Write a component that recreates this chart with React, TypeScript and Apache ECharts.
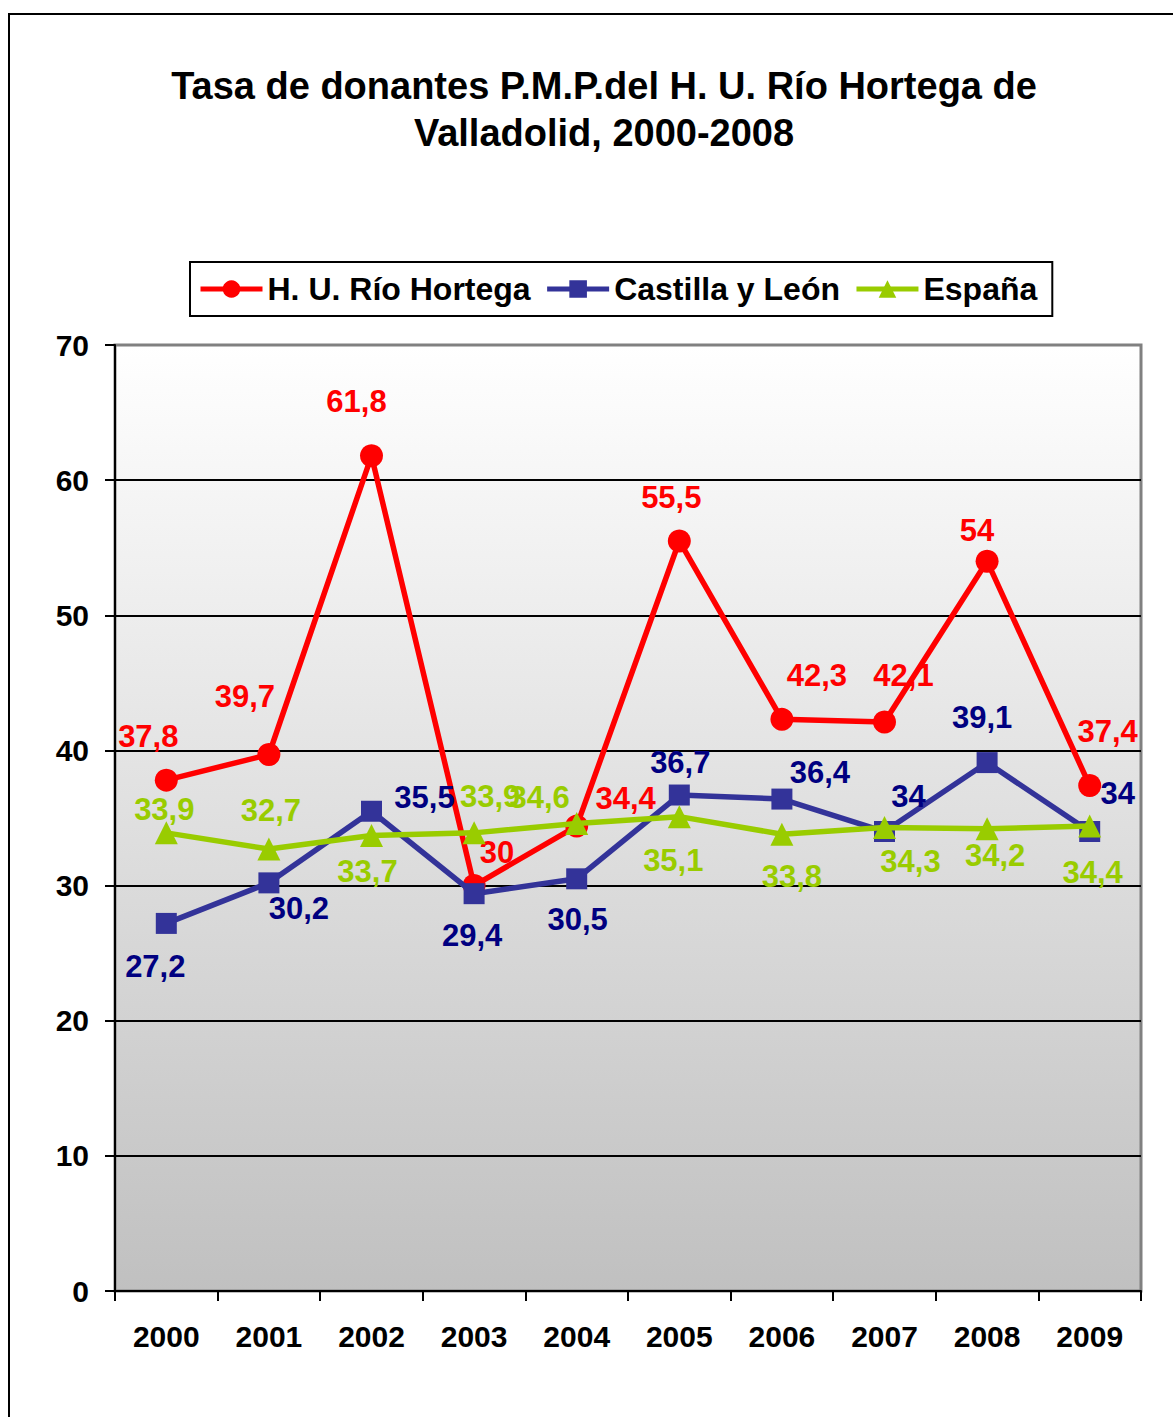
import React, { useEffect, useRef } from "react";
import * as echarts from "echarts";

const years = ["2000", "2001", "2002", "2003", "2004", "2005", "2006", "2007", "2008", "2009"];
const hortega = [37.8, 39.7, 61.8, 30, 34.4, 55.5, 42.3, 42.1, 54, 37.4];
const castilla = [27.2, 30.2, 35.5, 29.4, 30.5, 36.7, 36.4, 34, 39.1, 34];
const espana = [33.9, 32.7, 33.7, 33.9, 34.6, 35.1, 33.8, 34.3, 34.2, 34.4];

const seriesNames = ["H. U. Río Hortega", "Castilla y León", "España"];
const titleText = "Tasa de donantes P.M.P.del H. U. Río Hortega de\nValladolid, 2000-2008";

// label offsets relative to each point (layout only)
const hortegaOffsets = [[-18, -44], [-24, -58], [-15, -54], [23, -33], [49, -28], [-8, -43], [35, -44], [19, -47], [-10, -31], [18, -54]];
const castillaOffsets = [[-11, 43], [30, 26], [53, -14], [-2, 42], [1, 41], [1, -33], [38, -27], [24, -35], [-5, -45], [28, -38]];
const espanaOffsets = [[-2, -23], [2, -39], [-4, 36], [16, -36], [-37, -26], [-6, 44], [10, 42], [26, 34], [8, 27], [3, 46]];

const FONT = "'Liberation Sans', Arial, sans-serif";

function mkData(vals: number[], offs: number[][]) {
  return vals.map((v, i) => ({ value: v, label: { offset: offs[i] } }));
}

export default function App() {
  const ref = useRef<HTMLDivElement>(null);
  useEffect(() => {
    if (!ref.current) return;
    const chart = echarts.init(ref.current, null, { renderer: "svg" });
    const labelBase = (color: string) => ({
      show: true,
      position: "inside",
      color,
      fontSize: 31,
      fontWeight: "bold",
      fontFamily: FONT,
      formatter: (p: any) => String(p.value).replace(".", ","),
    });
    chart.setOption({
      animation: false,
      backgroundColor: "#ffffff",
      textStyle: { fontFamily: FONT },
      title: {
        text: titleText,
        left: 599,
        top: 57,
        textAlign: "center",
        textStyle: { fontSize: 38, fontWeight: "bold", color: "#000", lineHeight: 47, fontFamily: FONT },
      },
      graphic: [
        {
          type: "rect",
          silent: true,
          shape: { x: 9, y: 14, width: 1400, height: 1600 },
          style: { fill: "none", stroke: "#000", lineWidth: 2 },
          z: 100,
        },
      ],
      legend: {
        data: seriesNames,
        left: 190,
        top: 262,
        itemWidth: 62,
        itemHeight: 22,
        itemGap: 14,
        padding: [11, 15, 11, 8],
        borderColor: "#000",
        borderWidth: 2,
        backgroundColor: "#fff",
        lineStyle: { width: 5 },
        textStyle: { fontSize: 32, fontWeight: "bold", color: "#000", fontFamily: FONT },
      },
      grid: {
        left: 115,
        right: 32,
        top: 345,
        bottom: 126,
        show: true,
        borderColor: "#808080",
        borderWidth: 3,
        backgroundColor: new echarts.graphic.LinearGradient(0, 0, 0, 1, [
          { offset: 0, color: "#ffffff" },
          { offset: 1, color: "#c0c0c0" },
        ]),
      },
      xAxis: {
        type: "category",
        data: years,
        boundaryGap: true,
        axisLine: { show: true, lineStyle: { color: "#000", width: 2 } },
        axisTick: { show: true, length: 10, interval: 0, lineStyle: { color: "#000", width: 2 } },
        axisLabel: { fontSize: 30, fontWeight: "bold", color: "#000", margin: 30, interval: 0, fontFamily: FONT },
        splitLine: { show: false },
      },
      yAxis: {
        type: "value",
        min: 0,
        max: 70,
        interval: 10,
        axisLine: { show: true, lineStyle: { color: "#000", width: 2 } },
        axisTick: { show: true, length: 10, lineStyle: { color: "#000", width: 2 } },
        axisLabel: { fontSize: 30, fontWeight: "bold", color: "#000", margin: 26, fontFamily: FONT },
        splitLine: { show: true, showMaxLine: false, lineStyle: { color: "#000", width: 2 } },
      },
      series: [
        {
          name: seriesNames[0],
          type: "line",
          data: mkData(hortega, hortegaOffsets),
          symbol: "circle",
          symbolSize: 23,
          lineStyle: { color: "#ff0000", width: 5.5 },
          itemStyle: { color: "#ff0000" },
          label: labelBase("#ff0000"),
          z: 2,
        },
        {
          name: seriesNames[1],
          type: "line",
          data: mkData(castilla, castillaOffsets),
          symbol: "rect",
          symbolSize: 21,
          lineStyle: { color: "#333399", width: 5.5 },
          itemStyle: { color: "#333399" },
          label: labelBase("#000080"),
          z: 3,
        },
        {
          name: seriesNames[2],
          type: "line",
          data: mkData(espana, espanaOffsets),
          symbol: "triangle",
          symbolSize: 23,
          lineStyle: { color: "#99cc00", width: 5.5 },
          itemStyle: { color: "#99cc00" },
          label: labelBase("#99cc00"),
          z: 4,
        },
      ],
    });
    return () => chart.dispose();
  }, []);
  return <div ref={ref} style={{ position: "absolute", left: 0, top: 0, width: 1173, height: 1417 }} />;
}
